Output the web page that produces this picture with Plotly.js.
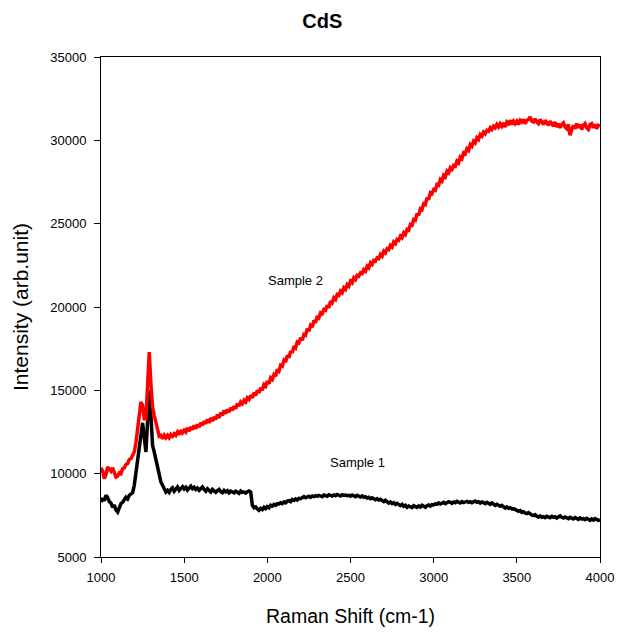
<!DOCTYPE html>
<html>
<head>
<meta charset="utf-8">
<script src="https://cdn.plot.ly/plotly-3.0.1.min.js"></script>
<style>html,body{margin:0;padding:0;background:#fff;}#chart{width:621px;height:634px;}</style>
</head>
<body>
<div id="chart"></div>
<script>
// Raman shift sampling (cm-1)
const ramanStart = 1000;
const ramanStep = 10;

// Sample 1 (black), 1000..4000 every 10 cm-1
const sample1 = [
  8300, 8520, 8380, 8700, 8560, 8320, 8240, 7980, 8120, 7820,
  7700, 7980, 8200, 8280, 8420, 8580, 8480, 8700, 8780, 8860,
  9300, 10100, 11000, 11800, 12600, 13050, 12200, 11300, 13100, 15000,
  13500, 11700, 11300, 10850, 10300, 9800, 9500, 9300, 9050, 8900,
  9000, 8880, 9060, 9150, 8950, 9100, 9200, 9000, 9120, 9220,
  9080, 9180, 9020, 9150, 9250, 9100, 9180, 9050, 9140, 9000,
  9120, 9200, 9060, 8950, 9100, 9000, 8900, 9060, 8950, 8880,
  8980, 9050, 8920, 8860, 9000, 8900, 8980, 8850, 8950, 8880,
  8850, 8950, 8900, 8820, 8960, 8880, 8900, 8840, 8920, 8960,
  8900, 8100, 7950, 8000, 7880, 7800, 7920, 7850, 7980, 7900,
  8020, 7950, 8100, 8050, 8150, 8100, 8200, 8180, 8250, 8200,
  8300, 8250, 8350, 8380, 8320, 8450, 8400, 8480, 8420, 8520,
  8500, 8560, 8620, 8550, 8600, 8650, 8580, 8660, 8620, 8680,
  8640, 8700, 8660, 8620, 8720, 8680, 8650, 8740, 8700, 8660,
  8720, 8680, 8750, 8700, 8660, 8740, 8700, 8720, 8680, 8700,
  8650, 8720, 8680, 8620, 8700, 8640, 8600, 8660, 8580, 8620,
  8540, 8580, 8500, 8560, 8480, 8440, 8500, 8420, 8460, 8380,
  8320, 8400, 8280, 8240, 8300, 8200, 8260, 8150, 8220, 8120,
  8080, 8160, 8040, 8100, 7980, 8060, 8000, 7960, 8080, 8020,
  7980, 8060, 8000, 8100, 8040, 7980, 8080, 8120, 8060, 8140,
  8120, 8200, 8160, 8240, 8180, 8220, 8280, 8200, 8260, 8320,
  8280, 8220, 8300, 8260, 8340, 8280, 8240, 8320, 8260, 8300,
  8340, 8280, 8320, 8260, 8300, 8360, 8280, 8320, 8240, 8300,
  8260, 8200, 8280, 8220, 8160, 8240, 8180, 8100, 8160, 8080,
  8040, 8100, 8020, 7940, 8000, 7920, 7960, 7880, 7900, 7820,
  7800, 7740, 7780, 7680, 7720, 7640, 7600, 7660, 7560, 7520,
  7480, 7540, 7440, 7400, 7460, 7380, 7420, 7360, 7440, 7400,
  7360, 7440, 7380, 7420, 7340, 7400, 7460, 7380, 7340, 7400,
  7360, 7300, 7380, 7320, 7280, 7360, 7300, 7260, 7340, 7280,
  7300, 7240, 7320, 7260, 7200, 7280, 7220, 7300, 7240, 7200,
  7220
];

// Sample 2 (red), 1000..4000 every 10 cm-1
const sample2 = [
  10350, 10150, 9700, 9950, 10400, 10300, 10150, 10350, 10050, 9800,
  9850, 10050, 10000, 10300, 10350, 10550, 10600, 10850, 10900, 11100,
  11300, 11850, 12600, 13300, 14300, 14100, 13300, 13300, 15300, 17300,
  15400, 14000, 13500, 13000, 12600, 12250, 12300, 12100, 12300, 12150,
  12300, 12150, 12350, 12250, 12400, 12300, 12500, 12350, 12600, 12450,
  12600, 12500, 12750, 12550, 12800, 12650, 12900, 12700, 12950, 12800,
  13050, 12900, 13150, 13000, 13250, 13050, 13350, 13150, 13400, 13250,
  13550, 13350, 13650, 13500, 13800, 13600, 13850, 13700, 13950, 13800,
  14050, 13900, 14200, 14050, 14300, 14200, 14400, 14300, 14550, 14450,
  14700, 14550, 14850, 14700, 15000, 14850, 15150, 15000, 15350, 15250,
  15550, 15400, 15750, 15650, 15950, 15850, 16250, 16150, 16500, 16450,
  16800, 16700, 17100, 16950, 17350, 17250, 17650, 17550, 17900, 17850,
  18150, 18000, 18350, 18300, 18700, 18550, 18900, 18800, 19200, 19050,
  19450, 19350, 19650, 19600, 19850, 19800, 20100, 19950, 20350, 20250,
  20550, 20450, 20750, 20700, 20950, 20850, 21150, 21050, 21350, 21250,
  21550, 21450, 21750, 21650, 21900, 21850, 22050, 22000, 22250, 22150,
  22450, 22350, 22650, 22550, 22800, 22750, 22950, 22900, 23150, 23050,
  23350, 23250, 23500, 23450, 23700, 23600, 23900, 23800, 24050, 24000,
  24250, 24150, 24450, 24350, 24650, 24600, 24950, 24900, 25250, 25200,
  25600, 25500, 25900, 25850, 26200, 26150, 26550, 26450, 26850, 26800,
  27050, 27000, 27350, 27300, 27650, 27550, 27900, 27800, 28150, 28050,
  28350, 28250, 28500, 28450, 28750, 28650, 29000, 28900, 29250, 29200,
  29500, 29400, 29750, 29650, 29950, 29850, 30150, 30050, 30350, 30250,
  30500, 30400, 30600, 30550, 30750, 30650, 30850, 30750, 30950, 30800,
  31000, 30850, 31050, 30800, 31100, 31000, 31200, 30950, 31150, 31000,
  31150, 30950, 31200, 31100, 31250, 31000, 31200, 31250, 31400, 31150,
  31100, 31300, 31100, 31000, 31250, 31050, 30950, 31200, 31000, 30900,
  31150, 30950, 30850, 31100, 30800, 31000, 30750, 30950, 31050, 30800,
  30700, 30950, 30300, 30650, 30900, 30700, 31000, 30750, 30950, 30650,
  30900, 31000, 30750, 30650, 30950, 31000, 30750, 30950, 30700, 30900,
  30850
];

const xTicks = [1000, 1500, 2000, 2500, 3000, 3500, 4000];
const yTicks = [5000, 10000, 15000, 20000, 25000, 30000, 35000];

const FONT = 'Arial, "Liberation Sans", sans-serif';

const traces = [
  {type: 'scatter', mode: 'lines', name: 'Sample 1', x0: ramanStart, dx: ramanStep, y: sample1,
   line: {color: '#000000', width: 3.5}},
  {type: 'scatter', mode: 'lines', name: 'Sample 2', x0: ramanStart, dx: ramanStep, y: sample2,
   line: {color: '#ff0000', width: 3.5}}
];

const layout = {
  width: 621, height: 634,
  margin: {l: 101, r: 21, t: 57, b: 77},
  paper_bgcolor: '#ffffff', plot_bgcolor: '#ffffff',
  showlegend: false,
  font: {family: FONT, color: '#000000'},
  title: {text: 'CdS', font: {family: FONT, size: 20, weight: 'bold', color: '#000'},
          xref: 'container', x: 0.519, xanchor: 'center', yref: 'container', y: 0.967, yanchor: 'middle'},
  xaxis: {
    range: [1000, 4000], tickvals: xTicks, ticktext: xTicks.map(String),
    showgrid: false, zeroline: false, showline: true, linecolor: '#000', linewidth: 1, mirror: true,
    ticks: 'outside', ticklen: 5, tickcolor: '#000', ticklabelstandoff: 3,
    tickfont: {family: FONT, size: 13, color: '#000'},
    title: {text: 'Raman Shift (cm-1)', font: {family: FONT, size: 19.5, color: '#000'}, standoff: 25}
  },
  yaxis: {
    range: [5000, 35000], tickvals: yTicks, ticktext: yTicks.map(String),
    showgrid: false, zeroline: false, showline: true, linecolor: '#000', linewidth: 1, mirror: true,
    ticks: 'outside', ticklen: 6, tickcolor: '#000', ticklabelstandoff: 5,
    tickfont: {family: FONT, size: 13, color: '#000'},
    title: {text: 'Intensity (arb.unit)', font: {family: FONT, size: 21, color: '#000'}, standoff: 15}
  },
  annotations: [
    {x: 2172, y: 21620, xref: 'x', yref: 'y', text: 'Sample 2', showarrow: false,
     font: {family: FONT, size: 13, color: '#000'}},
    {x: 2545, y: 10700, xref: 'x', yref: 'y', text: 'Sample 1', showarrow: false,
     font: {family: FONT, size: 13, color: '#000'}}
  ]
};

Plotly.newPlot('chart', traces, layout, {staticPlot: true, displayModeBar: false});
</script>
</body>
</html>
